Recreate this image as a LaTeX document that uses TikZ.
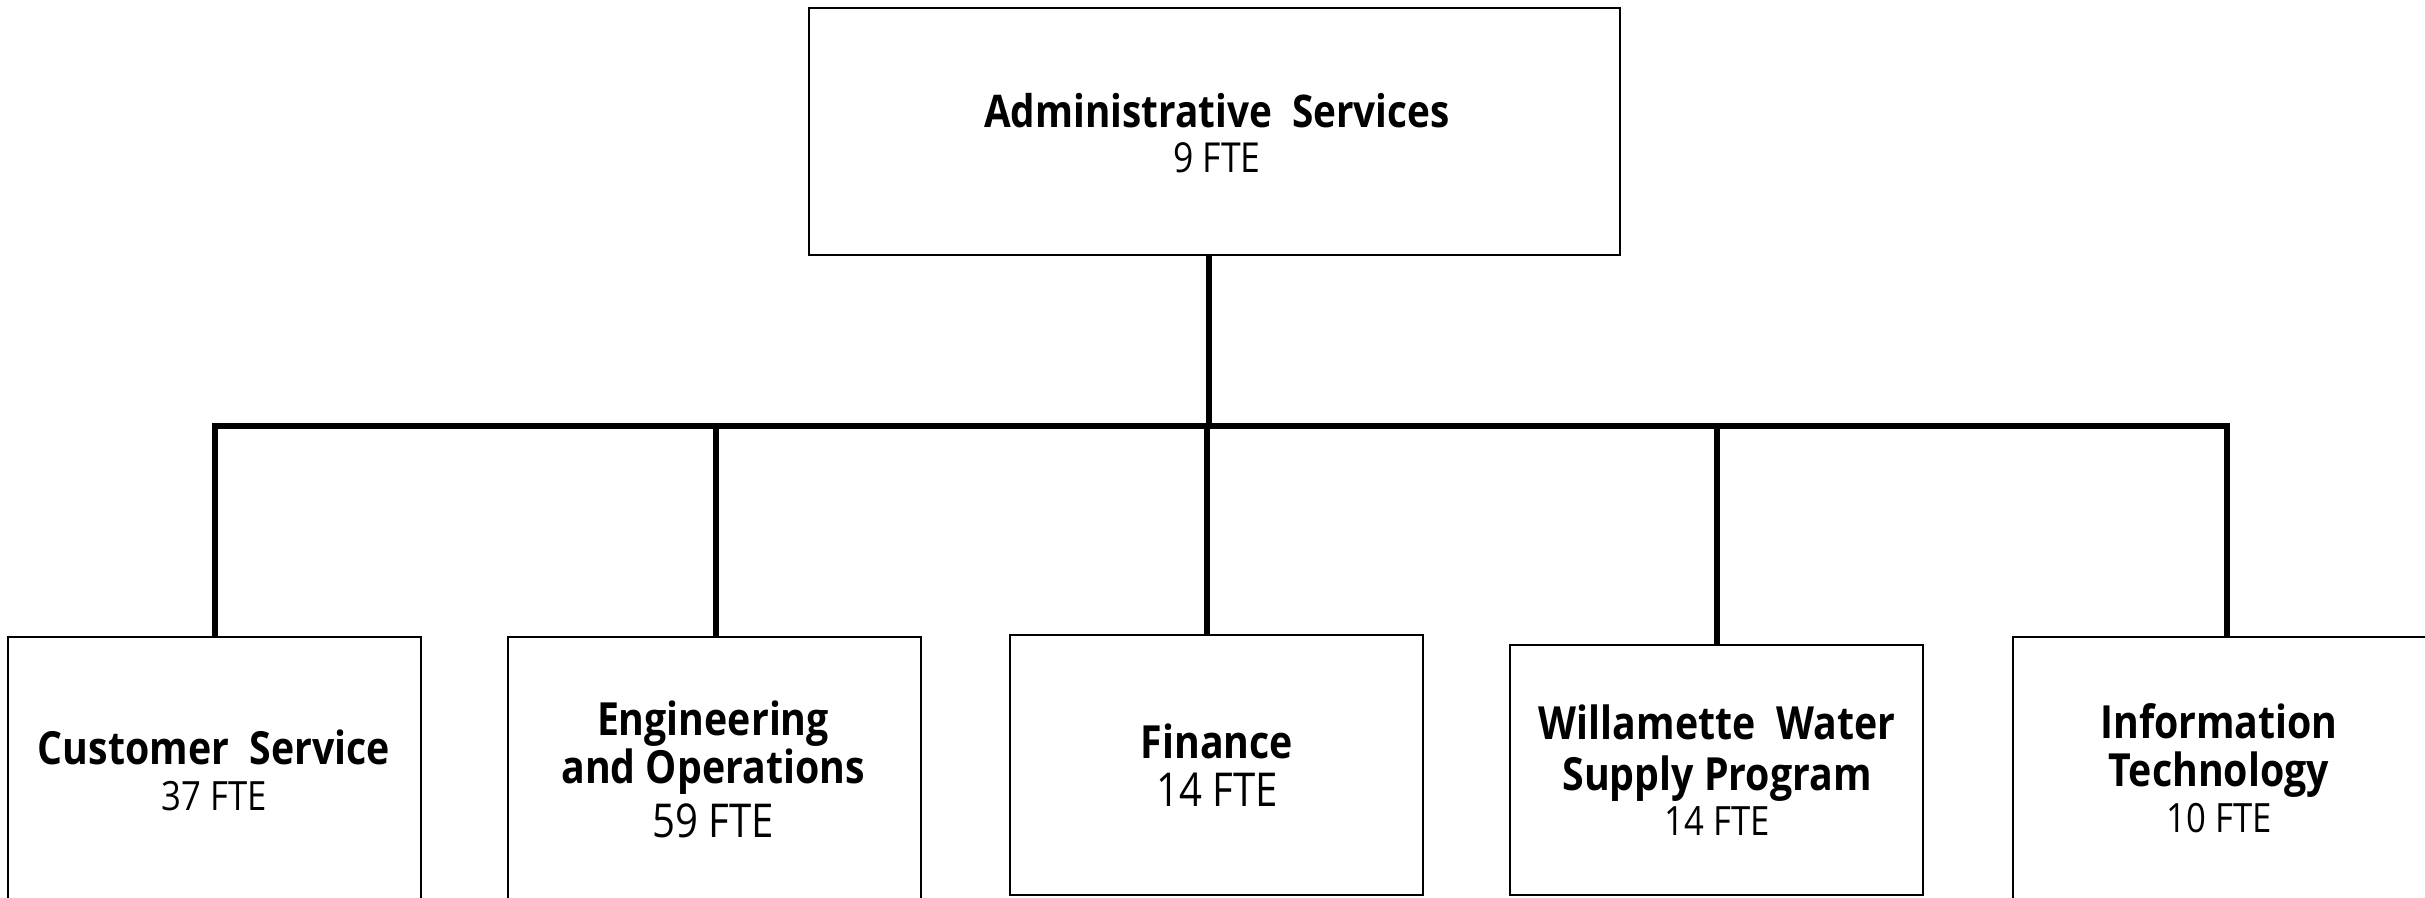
\documentclass[tikz,border=0pt]{standalone}
\usepackage{fontspec}
\setmainfont{Open Sans}[FakeStretch=0.86]
\begin{document}
\begin{tikzpicture}[x=0.3pt,y=-0.3pt,
  box/.style={draw, line width=0.6pt, inner sep=0pt, minimum width=123.9pt},
  conn/.style={line width=2pt},
  txt/.style={anchor=base, inner sep=0pt},
  bA/.style={txt, font=\bfseries\fontsize{13.5}{15}\selectfont},
  bB/.style={txt, font=\bfseries\fontsize{13.7}{15}\selectfont},
  nT/.style={txt, font=\fontsize{12.4}{14}\selectfont},
  nA/.style={txt, font=\fontsize{12.1}{14}\selectfont},
  nB/.style={txt, font=\fontsize{14}{16}\selectfont}]
\clip (0,0) rectangle (2425,897);
% boxes
\node[box, minimum width=243.3pt, minimum height=74.1pt] (top) at (1214.5,131.5) {};
\node[box, minimum height=108.9pt] (cs) at (214.5,818.5) {};
\node[box, minimum height=108.9pt] (eng) at (714.5,818.5) {};
\node[box, minimum height=78pt] (fin) at (1216.5,765) {};
\node[box, minimum height=75pt] (ww) at (1716.5,770) {};
\node[box, minimum height=108.9pt] (it) at (2219.5,818.5) {};
% connectors
\coordinate (bl) at (212,426);
\coordinate (br) at (2230,426);
\coordinate (dcs) at (215,423);
\coordinate (deng) at (716,423);
\coordinate (dfin) at (1207,423);
\coordinate (dww) at (1717,423);
\coordinate (dit) at (2227,423);
\coordinate (stem) at (1209,429);
\draw[conn] (top.south -| stem) -- (stem);
\draw[conn] (bl) -- (br);
\draw[conn] (dcs) -- (dcs |- cs.north);
\draw[conn] (deng) -- (deng |- eng.north);
\draw[conn] (dfin) -- (dfin |- fin.north);
\draw[conn] (dww) -- (dww |- ww.north);
\draw[conn] (dit) -- (dit |- it.north);
% texts
\node[bA] (topT) at (1217,127) {Administrative\ \ Services};
\node[nT] (topN) at (1217,172) {9 FTE};
\node[bB] (csT) at (214,764) {Customer\ \ Service};
\node[nA] (csN) at (214,810) {37 FTE};
\node[bB] (engT1) at (713,735) {Engineering};
\node[bB] (engT2) at (713,783) {and Operations};
\node[nB] (engN) at (713,837) {59 FTE};
\node[bB] (finT) at (1217,758) {Finance};
\node[nB] (finN) at (1217,806) {14 FTE};
\node[bB] (wwT1) at (1717,739) {Willamette\ \ Water};
\node[bB] (wwT2) at (1717,790) {Supply Program};
\node[nA] (wwN) at (1717,835) {14 FTE};
\node[bB] (itT1) at (2219,738) {Information};
\node[bB] (itT2) at (2219,786) {Technology};
\node[nA] (itN) at (2219,832) {10 FTE};
\end{tikzpicture}
\end{document}
